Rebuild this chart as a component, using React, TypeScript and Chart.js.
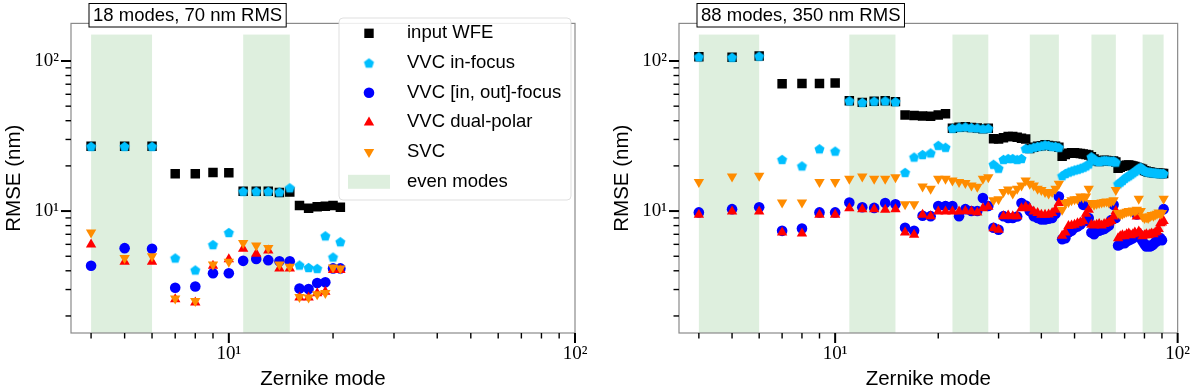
import React, { useEffect, useRef } from 'react';
import { Chart, registerables } from 'chart.js';

Chart.register(...registerables);

// ---------- axes ----------
const X_MIN = 3.5;
const X_MAX = 100;
const Y_MIN = 1.54;
const Y_MAX = 178;
const xTickValues = [4, 5, 6, 7, 8, 9, 10, 20, 30, 40, 50, 60, 70, 80, 90, 100];
const yTickValues = [2, 3, 4, 5, 6, 7, 8, 9, 10, 20, 30, 40, 50, 60, 70, 80, 90, 100];
const majorTickLabels: Record<number, string> = { 10: '10\u00B9', 100: '10\u00B2' };
const xTitle = 'Zernike mode';
const yTitle = 'RMSE (nm)';

// ---------- shading (even radial orders) ----------
const bandTop = 150;
const leftBands = [[4, 6], [11, 15]];
const rightBands = [[4, 6], [11, 15], [22, 28], [37, 45], [56, 66], [79, 91]];

const leftTitle = '18 modes, 70 nm RMS';
const rightTitle = '88 modes, 350 nm RMS';
const seriesLabels = ['input WFE', 'VVC in-focus', 'VVC [in, out]-focus', 'VVC dual-polar', 'SVC'];
const bandLabel = 'even modes';

// ---------- left panel data (modes 4..21) ----------
const leftModes = [4, 5, 6, 7, 8, 9, 10, 11, 12, 13, 14, 15, 16, 17, 18, 19, 20, 21];
const leftInput = [27.0, 27.0, 27.0, 17.7, 17.7, 18.1, 18.0, 13.55, 13.55, 13.55, 13.3, 13.4, 10.9, 10.45, 10.7, 10.75, 10.9, 10.6];
const leftInFocus = [27.0, 27.0, 27.0, 4.87, 4.05, 5.98, 7.2, 13.55, 13.55, 13.55, 13.4, 14.3, 4.37, 4.21, 4.15, 6.84, 4.94, 6.25];
const leftInOut = [4.32, 5.66, 5.6, 3.08, 3.14, 3.85, 3.85, 4.66, 4.8, 4.71, 4.63, 4.63, 3.05, 3.02, 3.32, 3.35, 4.15, 4.15];
const leftDual = [5.98, 4.59, 4.59, 2.58, 2.46, 4.32, 4.78, 5.6, 5.2, 5.47, 4.15, 4.15, 2.65, 2.65, 2.83, 2.9, 4.05, 4.05];
const leftSVC = [7.2, 4.87, 5.0, 2.61, 2.52, 4.4, 4.59, 6.13, 5.89, 5.68, 4.4, 4.26, 2.68, 2.65, 2.79, 2.85, 4.21, 4.15];

// ---------- right panel data (modes 4..91) ----------
const rightModes = [
  4, 5, 6,
  7, 8, 9, 10,
  11, 12, 13, 14, 15,
  16, 17, 18, 19, 20, 21,
  22, 23, 24, 25, 26, 27, 28,
  29, 30, 31, 32, 33, 34, 35, 36,
  37, 38, 39, 40, 41, 42, 43, 44, 45,
  46, 47, 48, 49, 50, 51, 52, 53, 54, 55,
  56, 57, 58, 59, 60, 61, 62, 63, 64, 65, 66,
  67, 68, 69, 70, 71, 72, 73, 74, 75, 76, 77, 78,
  79, 80, 81, 82, 83, 84, 85, 86, 87, 88, 89, 90, 91,
];
const rightInput = [
  106.7, 105.8, 107.8,
  70.4, 70.8, 70.8, 71.4,
  54.3, 53.0, 54.0, 54.3, 53.6,
  43.7, 43.4, 43.0, 42.9, 43.7, 44.5,
  35.6, 36.2, 36.4, 36.0, 35.8, 35.4, 35.6,
  30.3, 30.2, 30.8, 31.4, 31.4, 31.0, 30.6, 30.2,
  26.1, 26.6, 27.0, 27.2, 27.7, 27.4, 27.0, 27.0, 26.6,
  23.2, 23.8, 24.3, 24.5, 24.5, 24.3, 24.2, 24.0, 23.8, 23.6,
  23.0, 22.2, 21.6, 21.4, 21.6, 21.8, 21.7, 21.6, 21.5, 21.6, 21.2,
  19.3, 19.6, 19.9, 20.1, 20.2, 20.3, 20.1, 20.0, 19.8, 19.6, 19.4, 19.2,
  19.0, 18.6, 18.4, 18.2, 18.2, 18.1, 18.0, 18.0, 17.9, 17.9, 17.8, 17.8, 17.8,
];
const rightInFocus = [
  106.7, 105.8, 107.8,
  22.1, 20.0, 26.0, 25.1,
  54.3, 53.0, 54.0, 54.3, 53.6,
  18.1, 22.9, 23.8, 24.4, 27.4, 26.6,
  35.6, 36.2, 36.4, 36.0, 35.8, 35.4, 35.6,
  20.5, 19.3, 22.1, 22.4, 22.4, 22.1, 22.4, 26.1,
  26.1, 26.6, 27.0, 27.2, 27.7, 27.4, 27.0, 27.0, 26.6,
  17.2, 17.8, 18.2, 18.5, 18.8, 19.0, 19.3, 19.6, 20.0, 20.6,
  23.0, 22.2, 21.6, 21.4, 21.6, 21.8, 21.7, 21.6, 21.5, 21.6, 21.2,
  15.2, 15.6, 16.0, 16.5, 16.9, 17.2, 17.6, 18.0, 18.4, 18.8, 19.3, 19.6,
  19.0, 18.6, 18.4, 18.2, 18.2, 18.1, 18.0, 18.0, 17.9, 17.9, 17.8, 17.8, 17.8,
];
const rightInOut = [
  9.8, 10.3, 10.6,
  7.38, 7.64, 9.8, 9.8,
  11.4, 10.6, 10.5, 11.3, 11.1,
  7.75, 7.38, 9.3, 9.25, 10.8, 10.8,
  10.8, 9.25, 10.3, 10.0, 10.0, 12.2, 10.8,
  7.75, 7.5, 9.25, 9.0, 9.0, 9.2, 11.3, 10.9,
  10.0, 9.25, 9.0, 8.8, 8.8, 8.9, 9.0, 9.6, 12.5,
  6.5, 6.6, 7.2, 7.4, 7.75, 7.9, 8.15, 11.0, 8.6, 9.0,
  7.2, 7.0, 7.3, 7.4, 7.5, 7.6, 7.8, 8.0, 8.7, 11.0, 9.0,
  5.9, 6.0, 6.2, 6.1, 6.3, 6.4, 6.5, 6.6, 6.8, 9.5, 7.0, 6.6,
  6.3, 6.0, 5.8, 5.9, 5.8, 5.9, 6.0, 6.2, 6.3, 6.5, 6.6, 6.4, 10.3,
];
const rightDual = [
  9.46, 9.95, 9.95,
  7.2, 7.1, 9.46, 9.46,
  10.46, 10.3, 10.3, 10.2, 10.3,
  7.2, 6.95, 9.46, 9.25, 9.95, 9.95,
  9.95, 9.95, 10.0, 9.95, 9.8, 10.46, 10.7,
  7.67, 7.5, 9.25, 9.35, 9.25, 9.25, 10.46, 10.7,
  10.46, 9.95, 9.7, 9.46, 9.46, 9.5, 9.7, 10.2, 11.3,
  6.84, 7.2, 7.95, 8.0, 8.1, 8.3, 8.4, 8.6, 9.6, 10.2,
  8.1, 8.0, 8.1, 8.2, 8.0, 8.2, 8.3, 8.4, 8.6, 9.2, 10.0,
  6.6, 6.8, 6.9, 6.8, 7.0, 7.1, 6.9, 7.0, 7.2, 9.2, 7.3, 7.1,
  6.8, 6.9, 7.0, 6.9, 7.0, 7.1, 7.0, 7.2, 7.3, 7.6, 8.3, 8.4, 8.6,
];
const rightSVC = [
  15.6, 17.0, 17.2,
  11.4, 11.4, 15.6, 15.6,
  16.4, 17.0, 16.4, 16.4, 16.8,
  11.1, 11.1, 14.6, 14.1, 16.4, 16.4,
  16.0, 15.6, 15.4, 14.8, 14.5, 16.4, 16.8,
  11.8, 12.0, 13.4, 13.9, 13.1, 14.1, 14.8, 16.0,
  15.2, 14.8, 14.1, 13.8, 13.4, 13.1, 13.4, 14.1, 15.2,
  10.2, 11.3, 11.5, 11.8, 12.0, 12.0, 12.5, 12.3, 12.5, 14.1,
  11.3, 11.0, 11.2, 11.3, 11.4, 11.5, 11.6, 11.4, 11.6, 11.8, 13.8,
  9.7, 9.5, 9.6, 9.8, 9.9, 10.0, 9.9, 10.1, 10.0, 10.2, 12.1, 10.0,
  9.2, 9.0, 9.1, 9.0, 9.2, 9.4, 9.3, 9.5, 9.6, 9.8, 9.6, 9.7, 12.1,
];

// ---------- styles ----------
const COLORS = ['#000000', '#00bfff', '#0000ff', '#ff0000', '#ff8c00'];
const BAND_COLOR = 'rgba(0,128,0,0.13)';
const SANS = 'Liberation Sans';
const SERIF = 'Liberation Serif';

function makePentagon(color: string, r: number): HTMLCanvasElement {
  const size = Math.ceil(r * 2 + 2);
  const c = document.createElement('canvas');
  c.width = size;
  c.height = size;
  const ctx = c.getContext('2d')!;
  ctx.fillStyle = color;
  ctx.beginPath();
  for (let i = 0; i < 5; i++) {
    const ang = -Math.PI / 2 + (i * 2 * Math.PI) / 5;
    const px = size / 2 + r * Math.cos(ang);
    const py = size / 2 + r * Math.sin(ang) + r * 0.1;
    if (i === 0) ctx.moveTo(px, py);
    else ctx.lineTo(px, py);
  }
  ctx.closePath();
  ctx.fill();
  return c;
}

function drawMarker(ctx: CanvasRenderingContext2D, idx: number, x: number, y: number, pent: HTMLCanvasElement) {
  ctx.fillStyle = COLORS[idx];
  ctx.beginPath();
  if (idx === 0) {
    ctx.rect(x - 4.7, y - 4.7, 9.4, 9.4);
    ctx.fill();
  } else if (idx === 1) {
    ctx.drawImage(pent, x - pent.width / 2, y - pent.height / 2);
  } else if (idx === 2) {
    ctx.arc(x, y, 5.3, 0, Math.PI * 2);
    ctx.fill();
  } else {
    const r = 6;
    const s = idx === 3 ? 1 : -1;
    ctx.moveTo(x, y - s * r);
    ctx.lineTo(x + r * 0.866, y + s * r * 0.5);
    ctx.lineTo(x - r * 0.866, y + s * r * 0.5);
    ctx.closePath();
    ctx.fill();
  }
}

function buildDatasets(modes: number[], series: number[][], pent: HTMLCanvasElement) {
  const styles: any[] = [
    { pointStyle: 'rect', pointRadius: 6.7 },
    { pointStyle: pent, pointRadius: 6 },
    { pointStyle: 'circle', pointRadius: 5.3 },
    { pointStyle: 'triangle', pointRadius: 6 },
    { pointStyle: 'triangle', pointRadius: 6, pointRotation: 180 },
  ];
  return series.map((vals, i) => ({
    label: seriesLabels[i],
    data: modes.map((m, k) => ({ x: m, y: vals[k] })),
    showLine: false,
    backgroundColor: COLORS[i],
    borderColor: COLORS[i],
    pointBackgroundColor: COLORS[i],
    pointBorderWidth: 0,
    order: 5 - i,
    ...styles[i],
  }));
}

function makePlugin(bands: number[][], title: string, withLegend: boolean, pent: HTMLCanvasElement) {
  return {
    id: 'panelDecor',
    beforeDatasetsDraw(chart: any) {
      const { ctx, chartArea: a, scales } = chart;
      const xs = scales.x;
      const ys = scales.y;
      ctx.save();
      ctx.fillStyle = BAND_COLOR;
      const yTop = ys.getPixelForValue(bandTop);
      for (const [b0, b1] of bands) {
        const x0 = xs.getPixelForValue(b0);
        const x1 = xs.getPixelForValue(b1);
        ctx.fillRect(x0, yTop, x1 - x0, a.bottom - yTop);
      }
      ctx.restore();
    },
    afterDraw(chart: any) {
      const { ctx, chartArea: a, scales } = chart;
      const xs = scales.x;
      const ys = scales.y;
      ctx.save();
      // frame
      ctx.strokeStyle = '#8a8a8a';
      ctx.lineWidth = 1.2;
      ctx.strokeRect(a.left, a.top, a.right - a.left, a.bottom - a.top);
      // ticks
      ctx.strokeStyle = '#000';
      for (const t of xs.ticks) {
        const major = majorTickLabels[t.value] !== undefined;
        const px = xs.getPixelForValue(t.value);
        ctx.lineWidth = major ? 2 : 1.4;
        ctx.beginPath();
        ctx.moveTo(px, a.bottom);
        ctx.lineTo(px, a.bottom + (major ? 10 : 5.5));
        ctx.stroke();
      }
      for (const t of ys.ticks) {
        const major = majorTickLabels[t.value] !== undefined;
        const py = ys.getPixelForValue(t.value);
        ctx.lineWidth = major ? 2 : 1.4;
        ctx.beginPath();
        ctx.moveTo(a.left, py);
        ctx.lineTo(a.left - (major ? 10 : 5.5), py);
        ctx.stroke();
      }
      // title box
      ctx.font = `18.5px "${SANS}"`;
      const tw = ctx.measureText(title).width;
      const bx = a.left + 18;
      const by = 3.5;
      ctx.fillStyle = '#fff';
      ctx.fillRect(bx, by, tw + 8, 23.5);
      ctx.strokeStyle = '#000';
      ctx.lineWidth = 1;
      ctx.strokeRect(bx, by, tw + 8, 23.5);
      ctx.fillStyle = '#000';
      ctx.textBaseline = 'middle';
      ctx.textAlign = 'left';
      ctx.fillText(title, bx + 4, by + 12);
      // legend
      if (withLegend) {
        const lx = 339;
        const ly = 18;
        const lw = 232;
        const lh = 182;
        ctx.fillStyle = 'rgba(255,255,255,0.85)';
        ctx.strokeStyle = 'rgba(215,215,215,0.8)';
        ctx.lineWidth = 1;
        ctx.beginPath();
        (ctx as any).roundRect(lx, ly, lw, lh, 4);
        ctx.fill();
        ctx.stroke();
        const rowY = (i: number) => 33.3 + i * 29.7;
        for (let i = 0; i < seriesLabels.length; i++) {
          drawMarker(ctx, i, 369, rowY(i), pent);
          ctx.fillStyle = '#000';
          ctx.fillText(seriesLabels[i], 407, rowY(i));
        }
        ctx.fillStyle = BAND_COLOR;
        ctx.fillRect(348, rowY(5) - 7, 42, 14);
        ctx.fillStyle = '#000';
        ctx.fillText(bandLabel, 407, rowY(5));
      }
      ctx.restore();
    },
  };
}

function makeConfig(
  modes: number[],
  series: number[][],
  bands: number[][],
  title: string,
  withLegend: boolean,
  padLeft: number,
  padRight: number,
): any {
  const pent = makePentagon(COLORS[1], 5.3);
  return {
    type: 'scatter',
    data: { datasets: buildDatasets(modes, series, pent) },
    options: {
      responsive: false,
      animation: false,
      events: [],
      layout: { padding: { left: padLeft, right: padRight, top: 15.7, bottom: 0 } },
      plugins: { legend: { display: false }, tooltip: { enabled: false } },
      scales: {
        x: {
          type: 'logarithmic',
          min: X_MIN,
          max: X_MAX,
          afterBuildTicks: (s: any) => {
            s.ticks = xTickValues.map((v) => ({ value: v }));
          },
          afterFit: (s: any) => {
            s.height = 57;
          },
          grid: { display: false, drawTicks: false },
          border: { display: false },
          ticks: {
            autoSkip: false,
            maxRotation: 0,
            minRotation: 0,
            padding: 10,
            color: '#000',
            font: { family: SERIF, size: 19 },
            callback: (v: any) => majorTickLabels[v] ?? '',
          },
          title: {
            display: true,
            text: xTitle,
            color: '#000',
            font: { family: SANS, size: 20.5, lineHeight: 1 },
            padding: { top: 0, bottom: 0 },
          },
        },
        y: {
          type: 'logarithmic',
          min: Y_MIN,
          max: Y_MAX,
          afterBuildTicks: (s: any) => {
            s.ticks = yTickValues.map((v) => ({ value: v }));
          },
          afterFit: (s: any) => {
            s.width = 71;
          },
          grid: { display: false, drawTicks: false },
          border: { display: false },
          ticks: {
            autoSkip: false,
            padding: 12,
            color: '#000',
            font: { family: SERIF, size: 19 },
            callback: (v: any) => majorTickLabels[v] ?? '',
          },
          title: {
            display: true,
            text: yTitle,
            color: '#000',
            font: { family: SANS, size: 20.5, lineHeight: 1 },
            padding: { top: 4, bottom: 0 },
          },
        },
      },
    },
    plugins: [makePlugin(bands, title, withLegend, pent)],
  };
}

export default function App() {
  const leftRef = useRef<HTMLCanvasElement>(null);
  const rightRef = useRef<HTMLCanvasElement>(null);

  useEffect(() => {
    const c1 = new Chart(
      leftRef.current!,
      makeConfig(leftModes, [leftInput, leftInFocus, leftInOut, leftDual, leftSVC], leftBands, leftTitle, true, 0, 25),
    );
    const c2 = new Chart(
      rightRef.current!,
      makeConfig(rightModes, [rightInput, rightInFocus, rightInOut, rightDual, rightSVC], rightBands, rightTitle, false, 8, 17),
    );
    return () => {
      c1.destroy();
      c2.destroy();
    };
  }, []);

  return (
    <div style={{ position: 'absolute', left: 0, top: 0, width: 1200, height: 390, background: '#fff', display: 'flex' }}>
      <canvas ref={leftRef} width={600} height={390} style={{ display: 'block', width: 600, height: 390 }} />
      <canvas ref={rightRef} width={600} height={390} style={{ display: 'block', width: 600, height: 390 }} />
    </div>
  );
}
